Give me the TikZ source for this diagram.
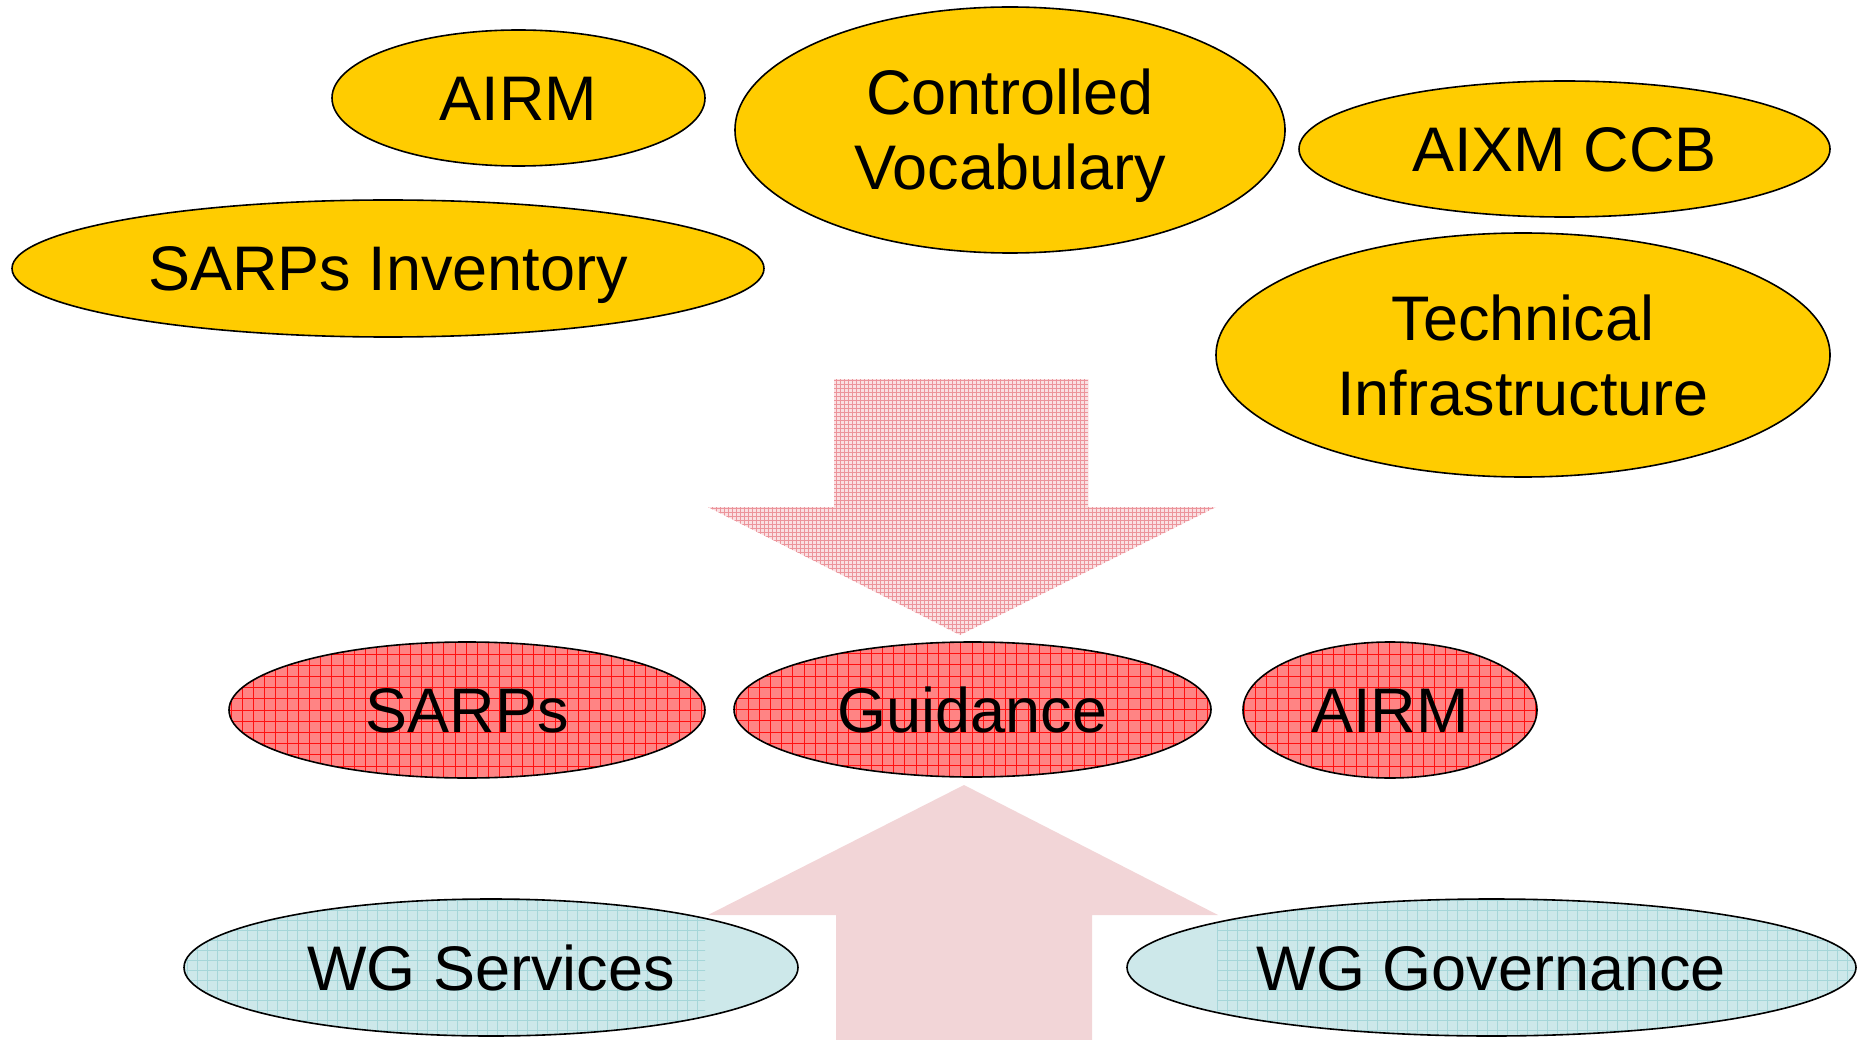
\documentclass[tikz,border=0pt]{standalone}
\usepackage{fontspec}
\setmainfont{Liberation Sans}
\usetikzlibrary{shapes.geometric,calc}
\definecolor{gold}{HTML}{FFCC00}
\definecolor{redfill}{HTML}{FF8484}
\definecolor{redline}{HTML}{FF1010}
\definecolor{bluefill}{HTML}{CDE8EA}
\definecolor{blueline}{HTML}{A6D6D9}
\definecolor{uparrow}{HTML}{F2D5D7}
\definecolor{dnbase}{HTML}{FAE0E2}
\definecolor{dnline}{HTML}{EC949B}
\begin{document}
\begin{tikzpicture}[x=1pt,y=-1pt,
  bub/.style={ellipse, draw=black, line width=1.6pt, inner sep=0pt,
    font=\fontsize{63}{75}\selectfont, align=center},
  one/.style={text height=45pt, text depth=0pt},
  yel/.style={bub, fill=gold},
  redb/.style={bub, one, fill=redfill, path picture={
    \draw[redline, line width=0.9pt, step=11.2pt]
      (path picture bounding box.south west) grid (path picture bounding box.north east);}},
  bluel/.style={bub, one, fill=bluefill, path picture={
    \clip (path picture bounding box.south west) rectangle ($(path picture bounding box.north west)+(#1,0)$);
    \draw[blueline, line width=0.8pt, step=10pt]
      (path picture bounding box.south west) grid (path picture bounding box.north east);}},
  bluer/.style={bub, one, fill=bluefill, path picture={
    \clip ($(path picture bounding box.south west)+(#1,0)$) rectangle (path picture bounding box.north east);
    \draw[blueline, line width=0.8pt, step=10pt]
      (path picture bounding box.south west) grid (path picture bounding box.north east);}}
]
\useasboundingbox (0,0) rectangle (1860,1040);

% down arrow (dotted pattern)
\begin{scope}
  \clip (834,379) -- (1088,379) -- (1088,507) -- (1216,507) -- (960,635)
        -- (708,507) -- (834,507) -- cycle;
  \fill[dnbase] (700,370) rectangle (1220,640);
  \draw[dnline, line width=0.9pt, step=4pt] (700,370) grid (1220,640);
\end{scope}

% up arrow
\fill[uparrow] (964,785) -- (1218,915) -- (1092,915) -- (1092,1040)
      -- (836,1040) -- (836,915) -- (708,915) -- cycle;

% yellow ellipses
\node[yel, one, minimum width=373pt, minimum height=136pt] (airm1) at (518.5,98) {AIRM};
\node[yel, minimum width=550pt, minimum height=246pt] (cv) at (1010,130) {};
\node[font=\fontsize{63}{75}\selectfont, align=center, inner sep=0pt] (cvt) at (1010,136) {Controlled\\Vocabulary};
\node[yel, one, minimum width=531pt, minimum height=136pt] (aixm) at (1564.5,149) {AIXM CCB};
\node[yel, one, minimum width=752pt, minimum height=137pt] (sarpsinv) at (388,268.5) {SARPs Inventory};
\node[yel, minimum width=614pt, minimum height=244pt] (tech) at (1523,355) {Technical\\Infrastructure};

% red ellipses
\node[redb, minimum width=476pt, minimum height=136pt] (sarps) at (467,710) {SARPs};
\node[redb, minimum width=477pt, minimum height=135pt] (guid) at (972.5,709.5) {Guidance};
\node[redb, minimum width=294pt, minimum height=136pt] (airm2) at (1390,710) {AIRM};

% blue ellipses
\node[bluel=521, minimum width=614pt, minimum height=137pt] (wgs) at (491,967.5) {WG Services};
\node[bluer=90, minimum width=729pt, minimum height=137pt] (wgg) at (1491.5,967.5) {WG Governance};
\end{tikzpicture}
\end{document}
